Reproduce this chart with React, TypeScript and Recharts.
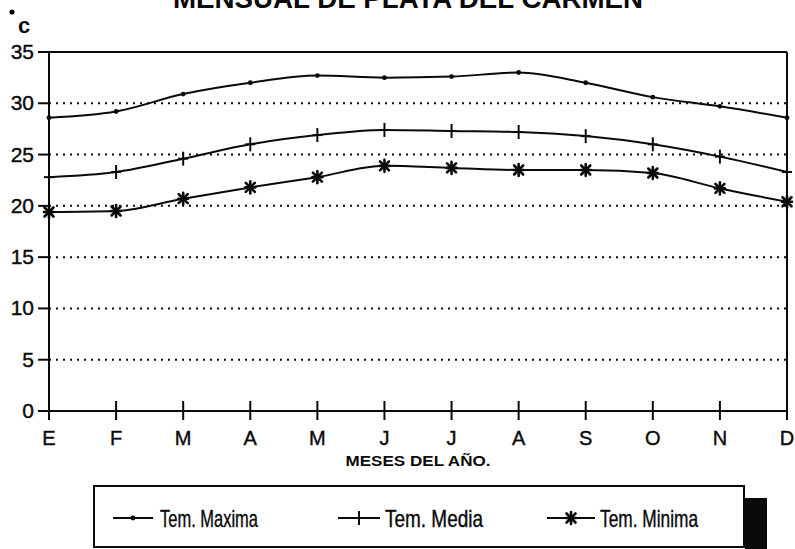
import { CartesianGrid, Line, LineChart, ReferenceLine, XAxis, YAxis } from "recharts";

const months = ["E", "F", "M", "A", "M", "J", "J", "A", "S", "O", "N", "D"];
const tempMaxima = [28.6, 29.2, 30.9, 32.0, 32.7, 32.5, 32.6, 33.0, 32.0, 30.6, 29.7, 28.6];
const tempMedia = [22.8, 23.3, 24.6, 26.0, 26.9, 27.4, 27.3, 27.2, 26.8, 26.0, 24.8, 23.3];
const tempMinima = [19.4, 19.5, 20.7, 21.8, 22.8, 23.9, 23.7, 23.5, 23.5, 23.2, 21.7, 20.4];
const yTicks = [0, 5, 10, 15, 20, 25, 30, 35];

const data = months.map((mes, i) => ({
  idx: i,
  mes,
  maxima: tempMaxima[i],
  media: tempMedia[i],
  minima: tempMinima[i],
}));

const INK = "#0a0a0a";
const FONT = "'Liberation Sans', Arial, sans-serif";

function DotMark({ cx, cy }: { cx: number; cy: number }) {
  return <circle cx={cx} cy={cy} r={2.4} fill={INK} />;
}

function PlusMark({ cx, cy }: { cx: number; cy: number }) {
  return (
    <g stroke={INK} strokeWidth={2}>
      <line x1={cx} x2={cx} y1={cy - 7} y2={cy + 7} />
      <line x1={cx - 5} x2={cx + 5} y1={cy} y2={cy} />
    </g>
  );
}

function StarMark({ cx, cy }: { cx: number; cy: number }) {
  const r = 6;
  const d = r * 0.75;
  return (
    <g stroke={INK} strokeWidth={2.6} strokeLinecap="round">
      <line x1={cx} x2={cx} y1={cy - r} y2={cy + r} />
      <line x1={cx - d} x2={cx + d} y1={cy - d} y2={cy + d} />
      <line x1={cx - d} x2={cx + d} y1={cy + d} y2={cy - d} />
      <line x1={cx - r + 1} x2={cx + r - 1} y1={cy} y2={cy} />
    </g>
  );
}

function MonthTick(props: any) {
  const { x, y, payload } = props;
  return (
    <g>
      <line x1={x} x2={x} y1={y - 10} y2={y + 9} stroke={INK} strokeWidth={2} />
      <text x={x} y={y + 34} textAnchor="middle" fontSize={20} fontFamily={FONT} fill={INK} stroke={INK} strokeWidth={0.4}>
        {months[payload.value]}
      </text>
    </g>
  );
}

function TempTick(props: any) {
  const { x, y, payload } = props;
  return (
    <g>
      <line x1={x - 11} x2={x} y1={y} y2={y} stroke={INK} strokeWidth={2} />
      <text x={x - 15} y={y + 7} textAnchor="end" fontSize={21} fontFamily={FONT} fill={INK} stroke={INK} strokeWidth={0.4}>
        {payload.value}
      </text>
    </g>
  );
}

function LegendBox() {
  const items = [
    { label: "Tem. Maxima", x1: 20, x2: 60, text: 67, Mark: DotMark },
    { label: "Tem. Media", x1: 245, x2: 287, text: 292, Mark: PlusMark },
    { label: "Tem. Minima", x1: 454, x2: 502, text: 507, Mark: StarMark },
  ];
  return (
    <div style={{ position: "absolute", left: 93, top: 485, width: 675, height: 64 }}>
      <div style={{ position: "absolute", left: 652, top: 13, width: 22, height: 51, background: INK }} />
      <svg width={653} height={64} style={{ position: "absolute", left: 0, top: 0 }}>
        <rect x={1} y={1} width={650} height={61} fill="#fff" stroke={INK} strokeWidth={2} />
        {items.map(({ label, x1, x2, text, Mark }) => (
          <g key={label}>
            <line x1={x1} x2={x2} y1={33} y2={33} stroke={INK} strokeWidth={2} />
            <Mark cx={(x1 + x2) / 2} cy={33} />
            <text x={text} y={42} fontSize={24} fontFamily={FONT} fill={INK} stroke={INK} strokeWidth={0.4} textLength={98} lengthAdjust="spacingAndGlyphs">
              {label}
            </text>
          </g>
        ))}
      </svg>
    </div>
  );
}

export default function App() {
  return (
    <div style={{ position: "absolute", left: 0, top: 0, width: 795, height: 549, background: "#fff", overflow: "hidden" }}>
      <svg width={795} height={549} style={{ position: "absolute", left: 0, top: 0 }}>
        <text x={408} y={8} textAnchor="middle" fontSize={27} fontWeight="bold" fontFamily={FONT} fill={INK} textLength={470} lengthAdjust="spacingAndGlyphs">
          MENSUAL DE PLAYA DEL CARMEN
        </text>
        <circle cx={12} cy={12} r={2.6} fill={INK} />
        <text x={18} y={33} fontSize={22} fontWeight="bold" fontFamily={FONT} fill={INK}>c</text>
        <text x={418} y={466} textAnchor="middle" fontSize={14} fontWeight="bold" fontFamily={FONT} fill={INK} textLength={145} lengthAdjust="spacingAndGlyphs">
          MESES DEL AÑO.
        </text>
      </svg>
      <div style={{ position: "absolute", left: 0, top: 0 }}>
        <LineChart width={795} height={549} data={data} margin={{ top: 52, right: 8, bottom: 108, left: 0 }}>
          <CartesianGrid vertical={false} stroke={INK} strokeWidth={2} strokeDasharray="2 5" />
          <XAxis
            dataKey="idx"
            type="category"
            height={30}
            axisLine={{ stroke: INK, strokeWidth: 2 }}
            tickLine={false}
            tickSize={0}
            tickMargin={0}
            tick={<MonthTick />}
            interval={0}
          />
          <YAxis
            domain={[0, 35]}
            ticks={yTicks}
            width={49}
            axisLine={{ stroke: INK, strokeWidth: 2 }}
            tickLine={false}
            tickSize={0}
            tickMargin={0}
            tick={<TempTick />}
          />
          <ReferenceLine y={35} stroke={INK} strokeWidth={2} />
          <ReferenceLine x={11} stroke={INK} strokeWidth={2} />
          <Line
            dataKey="maxima"
            type="monotone"
            stroke={INK}
            strokeWidth={2}
            isAnimationActive={false}
            dot={(p: any) => <DotMark key={`mx${p.index}`} cx={p.cx} cy={p.cy} />}
          />
          <Line
            dataKey="media"
            type="monotone"
            stroke={INK}
            strokeWidth={2}
            isAnimationActive={false}
            dot={(p: any) => <PlusMark key={`md${p.index}`} cx={p.cx} cy={p.cy} />}
          />
          <Line
            dataKey="minima"
            type="monotone"
            stroke={INK}
            strokeWidth={2}
            isAnimationActive={false}
            dot={(p: any) => <StarMark key={`mn${p.index}`} cx={p.cx} cy={p.cy} />}
          />
        </LineChart>
      </div>
      <LegendBox />
    </div>
  );
}
